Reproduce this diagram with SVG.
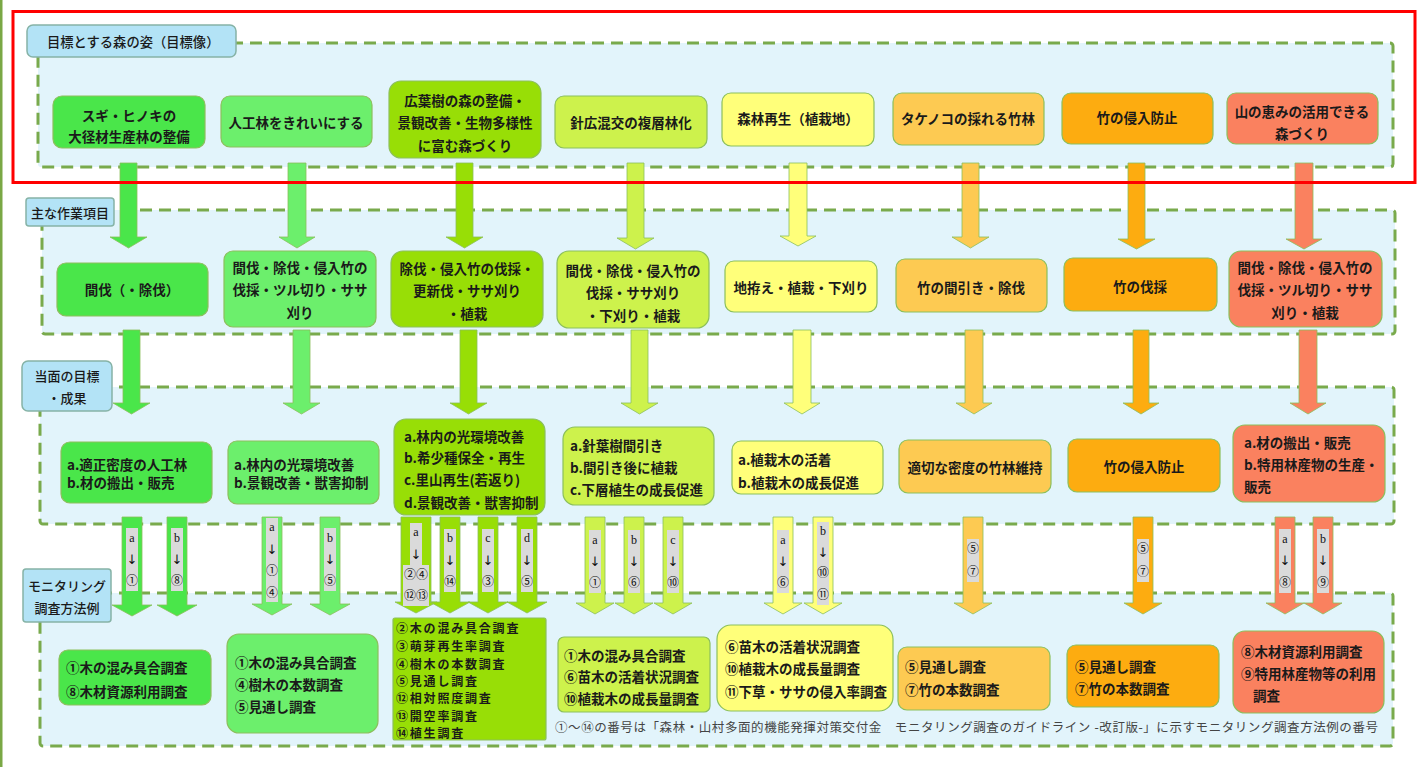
<svg xmlns="http://www.w3.org/2000/svg" width="1420" height="767" viewBox="0 0 1420 767">
<style>
.panel{fill:#e2f4fb;stroke:#79aa4c;stroke-width:3;stroke-dasharray:12 7}
.lbl rect{fill:#b3e3f6;stroke:#86b3a6;stroke-width:1.5}
.nd{stroke:#8cbf5c;stroke-width:1.2}
.t{font-family:"Noto Sans CJK JP","Noto Sans",sans-serif;font-size:13.5px;font-weight:700;fill:#1a1a1a;dominant-baseline:central}
.c{text-anchor:middle}
.sm{font-size:12px;letter-spacing:1.8px}
.s{font-family:"Liberation Serif","Noto Sans CJK JP",serif;font-size:12px;fill:#111;text-anchor:middle;dominant-baseline:central}
.dn{font-family:"DejaVu Sans",sans-serif;font-size:13px}
.g{fill:#dadada}
.ar{stroke:#8cbf5c;stroke-width:0.8}
.k1{fill:#4ae64a}.k2{fill:#6cef6c}.k3{fill:#98de06}.k4{fill:#cdf24c}
.k5{fill:#ffff7a}.k6{fill:#fdca52}.k7{fill:#fdac10}.k8{fill:#fa815f}
.foot{font-family:"Liberation Serif","Noto Sans CJK JP",serif;font-size:12.5px;fill:#444;dominant-baseline:central}
</style>
<rect x="0" y="0" width="1420" height="767" fill="#ffffff"/>
<rect x="0" y="0" width="2.5" height="767" fill="#7aa845"/>

<g id="panels">
<rect class="panel" x="38" y="43" width="1355" height="124" rx="3"/>
<rect class="panel" x="42" y="210" width="1353" height="124" rx="3"/>
<rect class="panel" x="40" y="387" width="1354" height="137" rx="3"/>
<rect class="panel" x="40" y="593" width="1353" height="153" rx="3"/>
</g>

<g id="connectors">
<path class="ar k1" d="M120,163H137V237H147L128.5,248L110,237H120Z"/>
<path class="ar k2" d="M288,163H306V237H315L297,248L279,237H288Z"/>
<path class="ar k3" d="M456,163H473V237H483L464.5,248L446,237H456Z"/>
<path class="ar k4" d="M627,163H644V238H654L635.5,249L617,238H627Z"/>
<path class="ar k5" d="M789,163H807V236H816L798,246L780,236H789Z"/>
<path class="ar k6" d="M962,163H979V237H989L970.5,248L952,237H962Z"/>
<path class="ar k7" d="M1128,163H1145V239H1155L1136.5,249L1118,239H1128Z"/>
<path class="ar k8" d="M1295,163H1313V239H1322L1304,249L1286,239H1295Z"/>
<path class="ar k1" d="M123,330H140V403H150L131.5,414L113,403H123Z"/>
<path class="ar k2" d="M293,330H310V403H320L301.5,414L283,403H293Z"/>
<path class="ar k3" d="M460,330H477V403H487L468.5,414L450,403H460Z"/>
<path class="ar k4" d="M631,330H648V403H658L639.5,414L621,403H631Z"/>
<path class="ar k5" d="M793,330H811V403H820L802,414L784,403H793Z"/>
<path class="ar k6" d="M965,330H983V403H992L974,414L956,403H965Z"/>
<path class="ar k7" d="M1133,330H1149V403H1159L1141,414L1123,403H1133Z"/>
<path class="ar k8" d="M1299,330H1317V403H1326L1308,414L1290,403H1299Z"/>
<g id="sa1a"><path class="ar k1" d="M122,517H142V605H152L132,616L112,605H122Z"/><rect class="g" x="126" y="528" width="12" height="63"/><text class="s" x="132" y="538">a</text><text class="s dn" x="132" y="559">↓</text><text class="s" x="132" y="581">①</text></g>
<g id="sa1b"><path class="ar k1" d="M167,517H187V605H197L177,616L157,605H167Z"/><rect class="g" x="171" y="528" width="12" height="63"/><text class="s" x="177" y="538">b</text><text class="s dn" x="177" y="559">↓</text><text class="s" x="177" y="581">⑧</text></g>
<g id="sa2a"><path class="ar k2" d="M262,517H282V604H292L272,615L252,604H262Z"/><rect class="g" x="266" y="518" width="12" height="84"/><text class="s" x="272" y="527">a</text><text class="s dn" x="272" y="549">↓</text><text class="s" x="272" y="571">①</text><text class="s" x="272" y="593">④</text></g>
<g id="sa2b"><path class="ar k2" d="M320,517H340V604H350L330,615L310,604H320Z"/><rect class="g" x="324" y="528" width="12" height="63"/><text class="s" x="330" y="538">b</text><text class="s dn" x="330" y="559">↓</text><text class="s" x="330" y="581">⑤</text></g>
<g id="sa3a"><path class="ar k3" d="M401,517H431V602H437L416,613L395,602H401Z"/><rect class="g" x="410" y="523" width="12" height="43"/><rect class="g" x="403" y="565" width="26" height="41"/><text class="s" x="416" y="532">a</text><text class="s dn" x="416" y="554">↓</text><text class="s" x="416" y="575">②④</text><text class="s" x="416" y="596">⑫⑬</text></g>
<g id="sa3b"><path class="ar k3" d="M440,517H460V602H470L450,613L430,602H440Z"/><rect class="g" x="444" y="529" width="12" height="63"/><text class="s" x="450" y="538">b</text><text class="s dn" x="450" y="560">↓</text><text class="s" x="450" y="582">⑭</text></g>
<g id="sa3c"><path class="ar k3" d="M478,517H498V602H508L488,613L468,602H478Z"/><rect class="g" x="482" y="529" width="12" height="63"/><text class="s" x="488" y="538">c</text><text class="s dn" x="488" y="560">↓</text><text class="s" x="488" y="582">③</text></g>
<g id="sa3d"><path class="ar k3" d="M517,517H537V602H547L527,613L507,602H517Z"/><rect class="g" x="521" y="529" width="12" height="63"/><text class="s" x="527" y="538">d</text><text class="s dn" x="527" y="560">↓</text><text class="s" x="527" y="582">⑤</text></g>
<g id="sa4a"><path class="ar k4" d="M585,517H605V603H614L595,614L576,603H585Z"/><rect class="g" x="589" y="530" width="12" height="63"/><text class="s" x="595" y="540">a</text><text class="s dn" x="595" y="561">↓</text><text class="s" x="595" y="583">①</text></g>
<g id="sa4b"><path class="ar k4" d="M624,517H644V603H653L634,614L615,603H624Z"/><rect class="g" x="628" y="530" width="12" height="63"/><text class="s" x="634" y="540">b</text><text class="s dn" x="634" y="561">↓</text><text class="s" x="634" y="583">⑥</text></g>
<g id="sa4c"><path class="ar k4" d="M663,517H683V603H692L673,614L654,603H663Z"/><rect class="g" x="667" y="530" width="12" height="63"/><text class="s" x="673" y="540">c</text><text class="s dn" x="673" y="561">↓</text><text class="s" x="673" y="583">⑩</text></g>
<g id="sa5a"><path class="ar k5" d="M773,517H793V603H802L783,614L764,603H773Z"/><rect class="g" x="777" y="530" width="12" height="63"/><text class="s" x="783" y="540">a</text><text class="s dn" x="783" y="561">↓</text><text class="s" x="783" y="583">⑥</text></g>
<g id="sa5b"><path class="ar k5" d="M813,517H833V603H842L823,614L804,603H813Z"/><rect class="g" x="817" y="522" width="12" height="83"/><text class="s" x="823" y="531">b</text><text class="s dn" x="823" y="552">↓</text><text class="s" x="823" y="573">⑩</text><text class="s" x="823" y="595">⑪</text></g>
<g id="sa6"><path class="ar k6" d="M963,517H983V603H992L973,614L954,603H963Z"/><rect class="g" x="967" y="539" width="12" height="43"/><text class="s" x="973" y="549">⑤</text><text class="s" x="973" y="572">⑦</text></g>
<g id="sa7"><path class="ar k7" d="M1133,517H1153V603H1162L1143,614L1124,603H1133Z"/><rect class="g" x="1137" y="539" width="12" height="43"/><text class="s" x="1143" y="549">⑤</text><text class="s" x="1143" y="572">⑦</text></g>
<g id="sa8a"><path class="ar k8" d="M1275,517H1295V603H1304L1285,614L1266,603H1275Z"/><rect class="g" x="1279" y="529" width="12" height="64"/><text class="s" x="1285" y="539">a</text><text class="s dn" x="1285" y="560">↓</text><text class="s" x="1285" y="583">⑧</text></g>
<g id="sa8b"><path class="ar k8" d="M1313,517H1333V603H1342L1323,614L1304,603H1313Z"/><rect class="g" x="1317" y="529" width="12" height="64"/><text class="s" x="1323" y="539">b</text><text class="s dn" x="1323" y="560">↓</text><text class="s" x="1323" y="583">⑨</text></g>
</g>

<g id="labels">
<g id="lbl1" class="lbl"><rect x="27" y="25" width="209" height="32" rx="6"/><text class="t" x="47" y="41" style="font-size:13.3px;font-weight:500">目標とする森の姿（目標像）</text></g>
<g id="lbl2" class="lbl"><rect x="26" y="198" width="88" height="28" rx="3"/><text class="t c" x="70" y="212" style="font-size:13px;font-weight:500">主な作業項目</text></g>
<g id="lbl3" class="lbl"><rect x="22" y="361" width="90" height="50" rx="6"/><text class="t c" x="67" y="375" style="font-size:13px;font-weight:500">当面の目標</text><text class="t c" x="67" y="397" style="font-size:13px;font-weight:500">・成果</text></g>
<g id="lbl4" class="lbl"><rect x="23" y="569" width="88" height="53" rx="3"/><text class="t c" x="67" y="585" style="font-size:13px;font-weight:500">モニタリング</text><text class="t c" x="67" y="607" style="font-size:13px;font-weight:500">調査方法例</text></g>
</g>

<g id="col1">
<g id="n1a"><rect class="nd k1" x="53" y="96" width="152" height="52" rx="9"/><text class="t c" x="129" y="115">スギ・ヒノキの</text><text class="t c" x="129" y="136">大径材生産林の整備</text></g>
<g id="n1b"><rect class="nd k1" x="57" y="263" width="151" height="53" rx="9"/><text class="t c" x="132" y="289">間伐（・除伐）</text></g>
<g id="n1c"><rect class="nd k1" x="61" y="442" width="151" height="61" rx="9"/><text class="t" x="67" y="464">a.適正密度の人工林</text><text class="t" x="67" y="482">b.材の搬出・販売</text></g>
<g id="n1d"><rect class="nd k1" x="59" y="650" width="152" height="55" rx="9"/><text class="t" x="66" y="667">①木の混み具合調査</text><text class="t" x="66" y="691">⑧木材資源利用調査</text></g>
</g>
<g id="col2">
<g id="n2a"><rect class="nd k2" x="221" y="96" width="151" height="51" rx="9"/><text class="t c" x="296" y="122">人工林をきれいにする</text></g>
<g id="n2b"><rect class="nd k2" x="224" y="251" width="152" height="76" rx="9"/><text class="t c" x="300" y="267">間伐・除伐・侵入竹の</text><text class="t c" x="300" y="289">伐採・ツル切り・ササ</text><text class="t c" x="300" y="312">刈り</text></g>
<g id="n2c"><rect class="nd k2" x="228" y="441" width="151" height="63" rx="9"/><text class="t" x="234" y="464">a.林内の光環境改善</text><text class="t" x="234" y="482">b.景観改善・獣害抑制</text></g>
<g id="n2d"><rect class="nd k2" x="227" y="634" width="151" height="99" rx="12"/><text class="t" x="235" y="662">①木の混み具合調査</text><text class="t" x="235" y="684">④樹木の本数調査</text><text class="t" x="235" y="706">⑤見通し調査</text></g>
</g>
<g id="col3">
<g id="n3a"><rect class="nd k3" x="389" y="81" width="152" height="77" rx="12"/><text class="t c" x="465" y="100">広葉樹の森の整備・</text><text class="t c" x="465" y="122">景観改善・生物多様性</text><text class="t c" x="465" y="145">に富む森づくり</text></g>
<g id="n3b"><rect class="nd k3" x="391" y="251" width="152" height="76" rx="12"/><text class="t c" x="467" y="268">除伐・侵入竹の伐採・</text><text class="t c" x="467" y="290">更新伐・ササ刈り</text><text class="t c" x="467" y="313">・植栽</text></g>
<g id="n3c"><rect class="nd k3" x="394" y="419" width="151" height="96" rx="12"/><text class="t" x="404" y="436">a.林内の光環境改善</text><text class="t" x="404" y="457">b.希少種保全・再生</text><text class="t" x="404" y="479">c.里山再生(若返り)</text><text class="t" x="404" y="502">d.景観改善・獣害抑制</text></g>
<g id="n3d"><rect class="nd k3" x="393" y="618" width="153" height="122" rx="2"/><text class="t sm" x="396" y="627">②木の混み具合調査</text><text class="t sm" x="396" y="645">③萌芽再生率調査</text><text class="t sm" x="396" y="663">④樹木の本数調査</text><text class="t sm" x="396" y="680">⑤見通し調査</text><text class="t sm" x="396" y="697">⑫相対照度調査</text><text class="t sm" x="396" y="715">⑬開空率調査</text><text class="t sm" x="396" y="732">⑭植生調査</text></g>
</g>
<g id="col4">
<g id="n4a"><rect class="nd k4" x="555" y="96" width="152" height="52" rx="9"/><text class="t c" x="631" y="122">針広混交の複層林化</text></g>
<g id="n4b"><rect class="nd k4" x="557" y="251" width="152" height="77" rx="12"/><text class="t c" x="633" y="270">間伐・除伐・侵入竹の</text><text class="t c" x="633" y="292">伐採・ササ刈り</text><text class="t c" x="633" y="315">・下刈り・植栽</text></g>
<g id="n4c"><rect class="nd k4" x="563" y="427" width="151" height="78" rx="12"/><text class="t" x="570" y="445">a.針葉樹間引き</text><text class="t" x="570" y="467">b.間引き後に植栽</text><text class="t" x="570" y="489">c.下層植生の成長促進</text></g>
<g id="n4d"><rect class="nd k4" x="558" y="637" width="152" height="75" rx="6"/><text class="t" x="564" y="655">①木の混み具合調査</text><text class="t" x="564" y="676">⑥苗木の活着状況調査</text><text class="t" x="564" y="698">⑩植栽木の成長量調査</text></g>
</g>
<g id="col5">
<g id="n5a"><rect class="nd k5" x="722" y="93" width="152" height="53" rx="9"/><text class="t c" x="798" y="118">森林再生（植栽地）</text></g>
<g id="n5b"><rect class="nd k5" x="725" y="261" width="152" height="51" rx="9"/><text class="t c" x="801" y="287">地拵え・植栽・下刈り</text></g>
<g id="n5c"><rect class="nd k5" x="732" y="441" width="151" height="53" rx="9"/><text class="t" x="738" y="459">a.植栽木の活着</text><text class="t" x="738" y="482">b.植栽木の成長促進</text></g>
<g id="n5d"><rect class="nd k5" x="717" y="625" width="176" height="86" rx="14"/><text class="t" x="725" y="646">⑥苗木の活着状況調査</text><text class="t" x="725" y="668">⑩植栽木の成長量調査</text><text class="t" x="725" y="691">⑪下草・ササの侵入率調査</text></g>
</g>
<g id="col6">
<g id="n6a"><rect class="nd k6" x="893" y="93" width="151" height="52" rx="9"/><text class="t c" x="968" y="118">タケノコの採れる竹林</text></g>
<g id="n6b"><rect class="nd k6" x="896" y="259" width="151" height="53" rx="9"/><text class="t c" x="971" y="287">竹の間引き・除伐</text></g>
<g id="n6c"><rect class="nd k6" x="899" y="440" width="152" height="53" rx="9"/><text class="t c" x="975" y="467">適切な密度の竹林維持</text></g>
<g id="n6d"><rect class="nd k6" x="898" y="647" width="152" height="63" rx="9"/><text class="t" x="905" y="666">⑤見通し調査</text><text class="t" x="905" y="689">⑦竹の本数調査</text></g>
</g>
<g id="col7">
<g id="n7a"><rect class="nd k7" x="1062" y="93" width="151" height="51" rx="9"/><text class="t c" x="1137" y="117">竹の侵入防止</text></g>
<g id="n7b"><rect class="nd k7" x="1064" y="258" width="153" height="53" rx="9"/><text class="t c" x="1140" y="286">竹の伐採</text></g>
<g id="n7c"><rect class="nd k7" x="1068" y="439" width="152" height="53" rx="9"/><text class="t c" x="1144" y="466">竹の侵入防止</text></g>
<g id="n7d"><rect class="nd k7" x="1067" y="645" width="152" height="62" rx="9"/><text class="t" x="1075" y="666">⑤見通し調査</text><text class="t" x="1075" y="688">⑦竹の本数調査</text></g>
</g>
<g id="col8">
<g id="n8a"><rect class="nd k8" x="1227" y="93" width="151" height="51" rx="9"/><text class="t c" x="1302" y="111">山の恵みの活用できる</text><text class="t c" x="1302" y="133">森づくり</text></g>
<g id="n8b"><rect class="nd k8" x="1229" y="251" width="153" height="76" rx="12"/><text class="t c" x="1305" y="267">間伐・除伐・侵入竹の</text><text class="t c" x="1305" y="289">伐採・ツル切り・ササ</text><text class="t c" x="1305" y="312">刈り・植栽</text></g>
<g id="n8c"><rect class="nd k8" x="1233" y="425" width="152" height="77" rx="12"/><text class="t" x="1244" y="442">a.材の搬出・販売</text><text class="t" x="1244" y="464">b.特用林産物の生産・</text><text class="t" x="1244" y="486">販売</text></g>
<g id="n8d"><rect class="nd k8" x="1233" y="631" width="151" height="82" rx="12"/><text class="t" x="1241" y="651">⑧木材資源利用調査</text><text class="t" x="1241" y="673">⑨特用林産物等の利用</text><text class="t" x="1253" y="695">調査</text></g>
</g>

<text class="foot" x="555" y="728" textLength="823" lengthAdjust="spacing">①～⑭の番号は「森林・山村多面的機能発揮対策交付金　モニタリング調査のガイドライン -改訂版-」に示すモニタリング調査方法例の番号</text>

<rect id="highlight" x="13" y="11.5" width="1402" height="171" fill="none" stroke="#ff0000" stroke-width="3"/>
</svg>
